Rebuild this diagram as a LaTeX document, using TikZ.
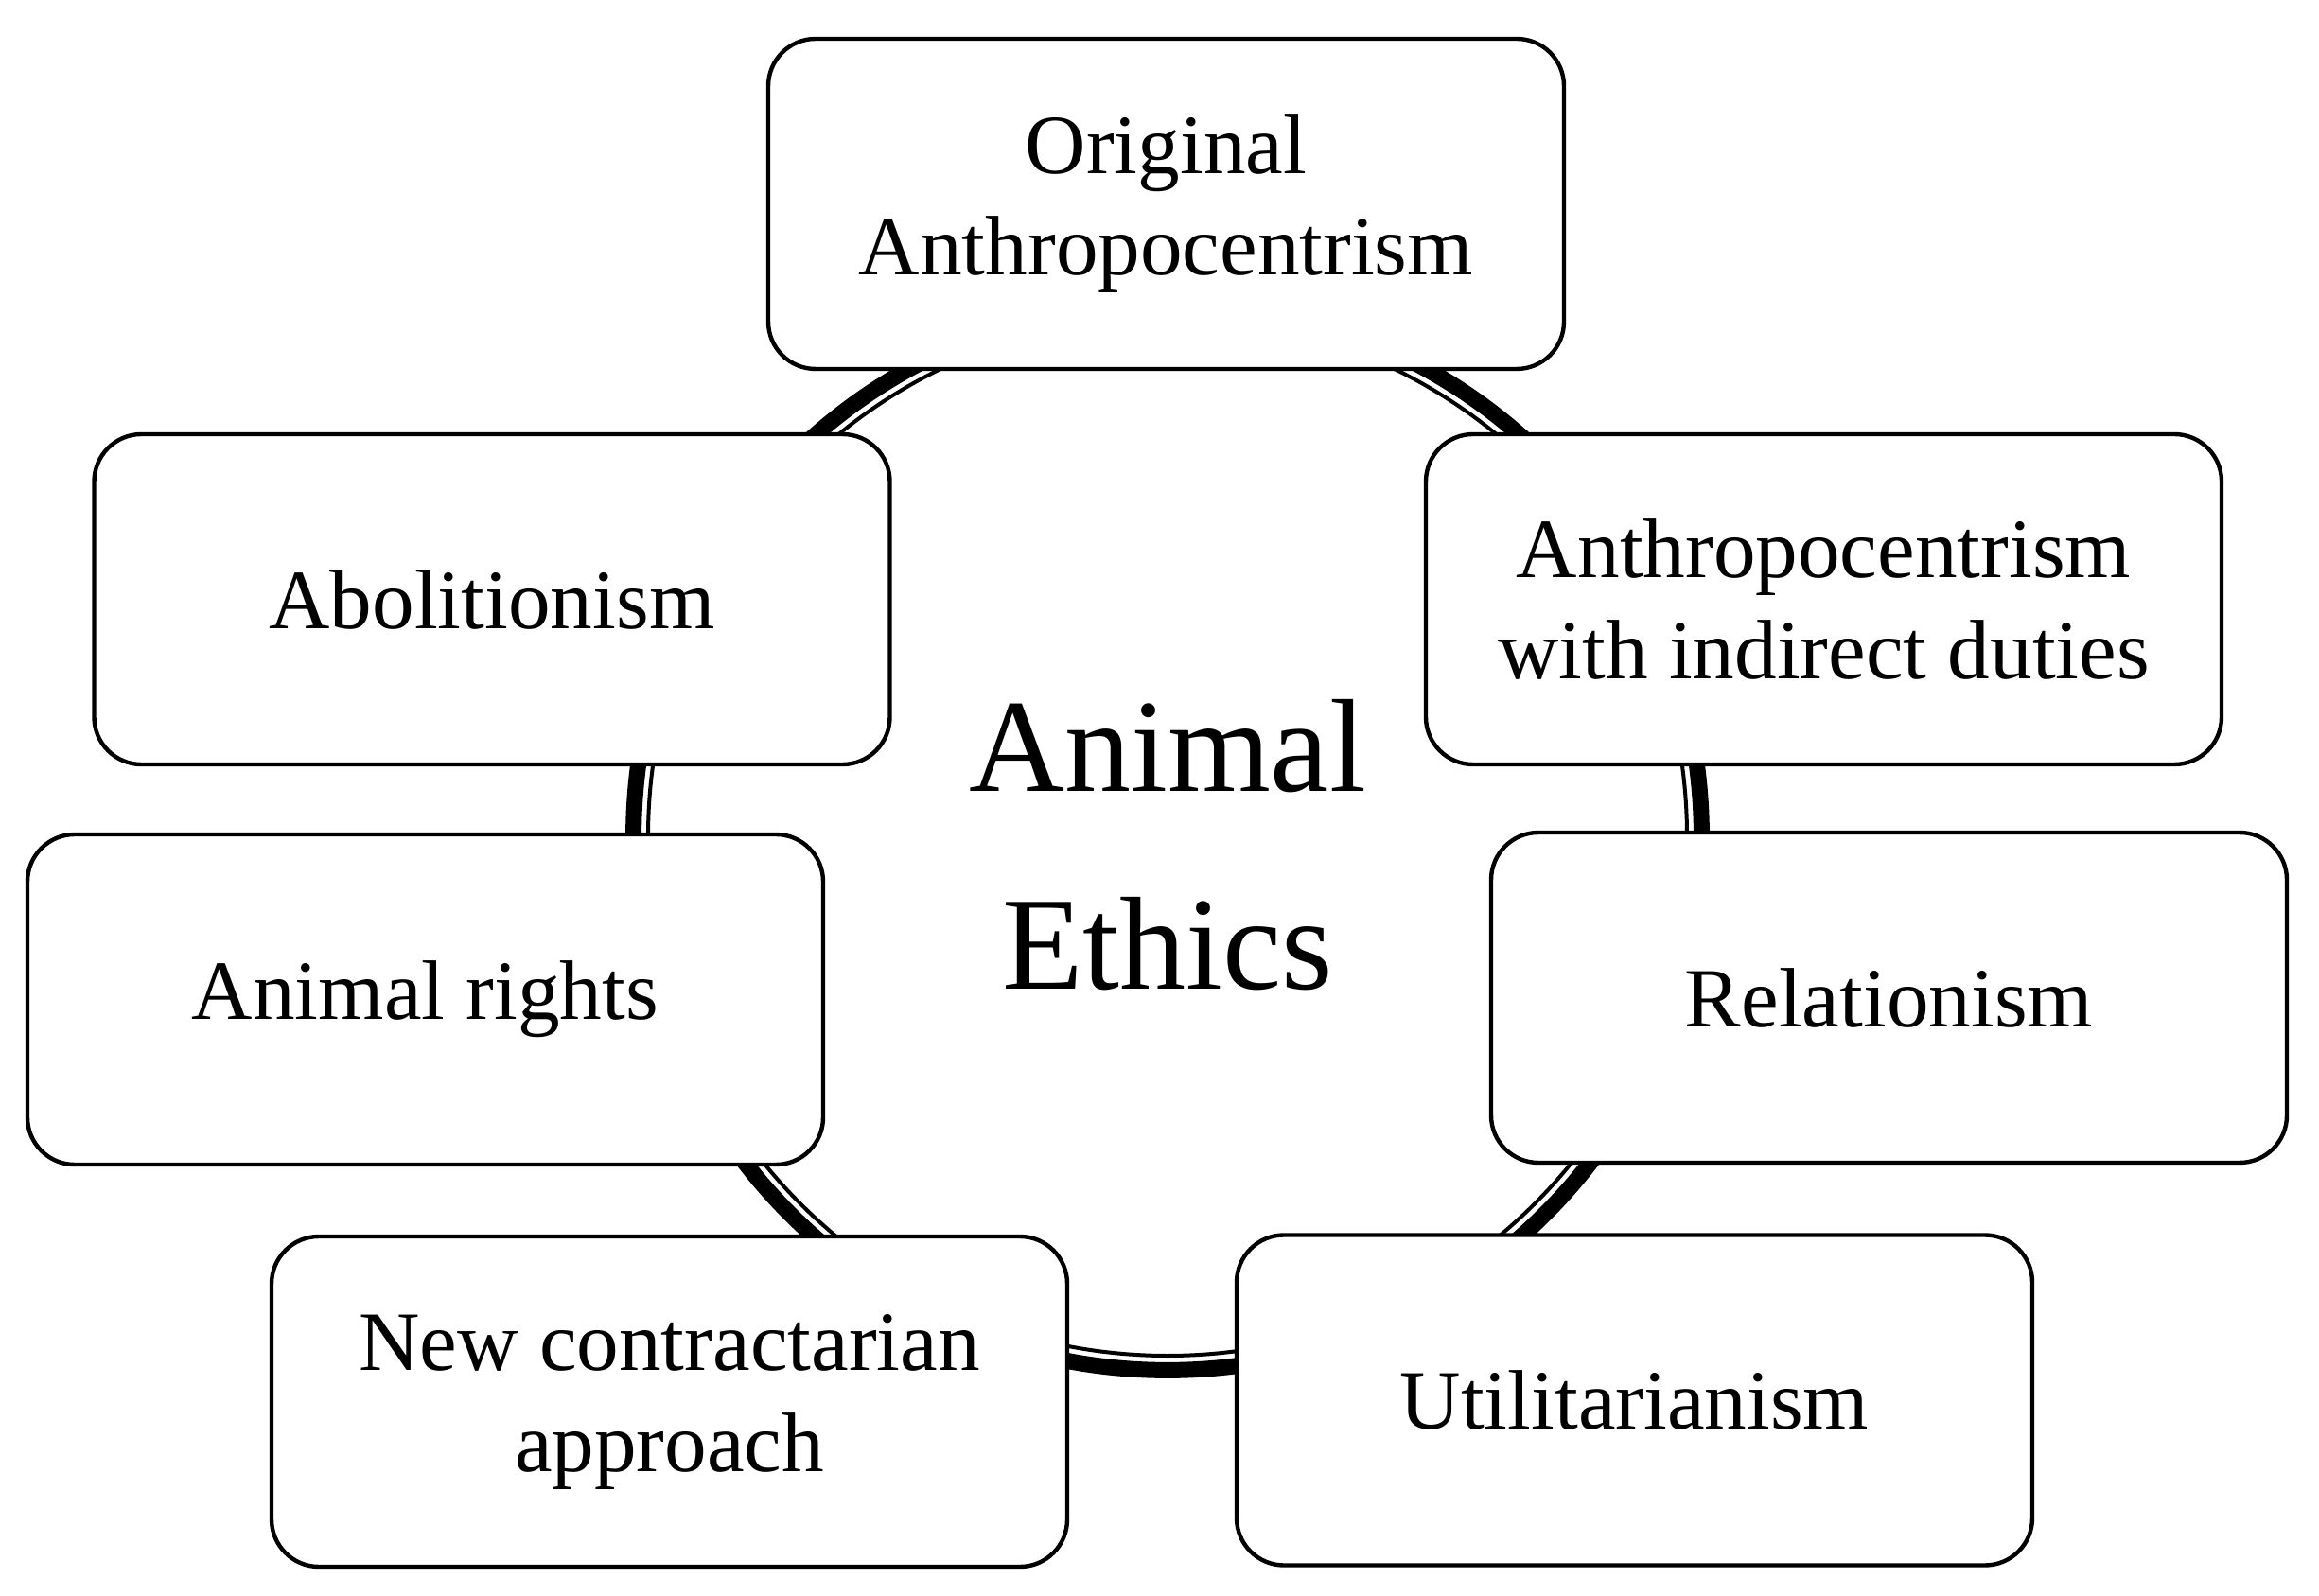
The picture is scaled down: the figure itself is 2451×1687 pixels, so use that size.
\documentclass[tikz,border=0pt]{standalone}
\usepackage{fontspec}
\setmainfont{Liberation Serif}

\begin{document}
\begin{tikzpicture}[x=0.25pt,y=-0.25pt,font=\fontsize{22.3}{26.75}\selectfont,
  box/.style={draw,line width=1.1pt,rounded corners=12.5pt,fill=white,
    minimum width=210.25pt,minimum height=87.25pt,align=center,inner sep=0pt}]

\useasboundingbox (0,0) rectangle (2451,1687);
\fill[white] (0,0) rectangle (2451,1687);

\coordinate (o) at (1234,884);

% ring: thick outside, thin inside
\draw[line width=4.25pt] (o) circle (141.1pt);
\draw[line width=1pt] (o) circle (137.25pt);

% the seven boxes
\node[box] (orig) at (1232.5,215.5) {Original\\Anthropocentrism};
\node[box] (abol) at (520,633.5) {Abolitionism};
\node[box] (indir) at (1927.5,633.5) {Anthropocentrism\\with indirect duties};
\node[box] (rights) at (449.5,1056.5) {Animal rights};
\node[box] (relat) at (1996.5,1054.5) {Relationism};
\node[box] (contr) at (707.5,1481.5) {New contractarian\\approach};
\node[box] (util) at (1727.5,1480) {Utilitarianism};

% centre
\node[align=center,font=\fontsize{35}{52.25}\selectfont] (ethics) at (o) [yshift=-2.25pt] {Animal\\Ethics};

\end{tikzpicture}
\end{document}
